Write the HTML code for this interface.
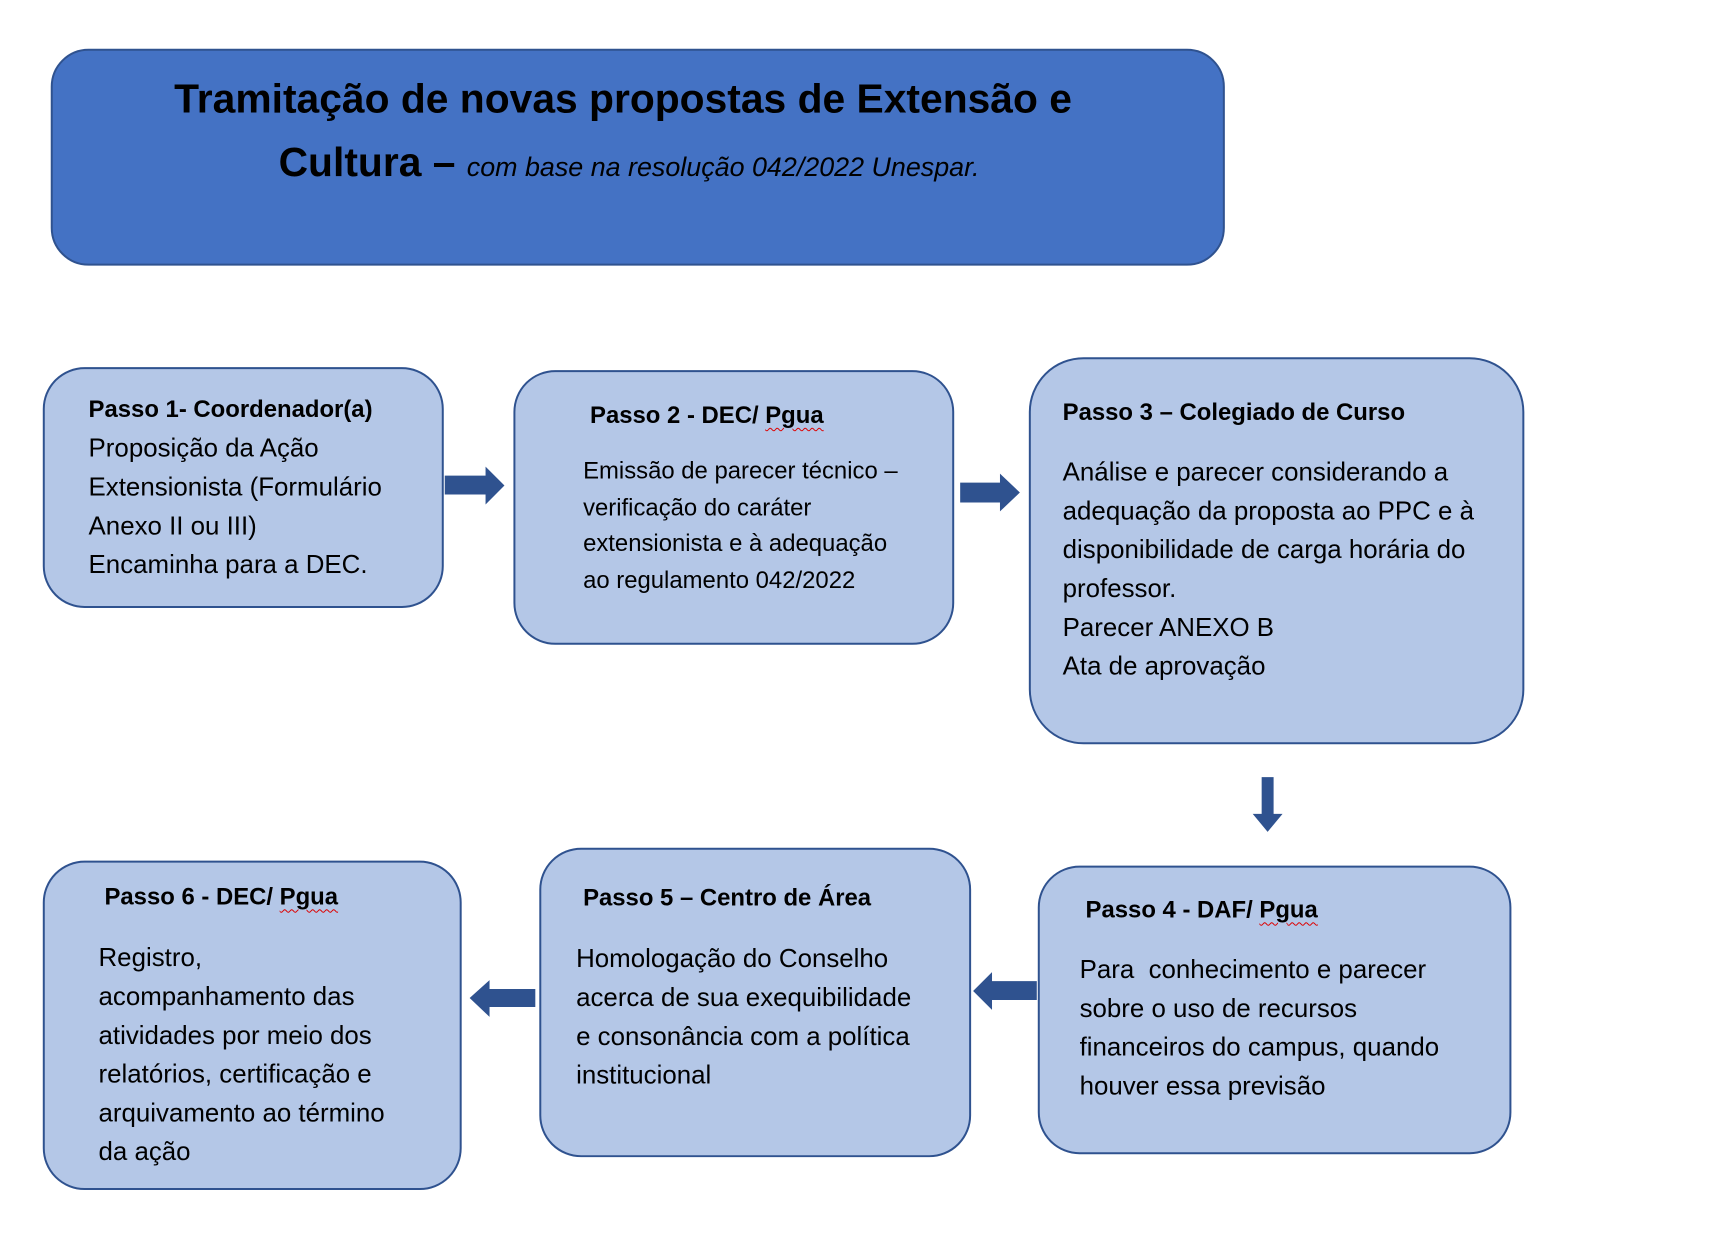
<!DOCTYPE html>
<html><head><meta charset="utf-8"><style>
body{margin:0;width:1728px;height:1233px;background:#fff;position:relative;overflow:hidden;font-family:"Liberation Sans",sans-serif;color:#000}
#w{position:absolute;left:0;top:0;width:1728px;height:1233px;transform:scale(0.995);transform-origin:0 0}
.b{position:absolute;background:#b4c7e7;border:2.5px solid #2f528f;border-radius:42px;box-sizing:border-box}
.t{position:absolute;white-space:nowrap;font-size:26px;line-height:39px}
.h{font-weight:bold;font-size:24px}
.u{text-decoration:underline wavy #d00;text-decoration-thickness:1px;text-underline-offset:4px}
</style></head><body><div id="w">
<div class="b" style="left:51px;top:49px;width:1180px;height:218px;background:#4472c4;border-radius:38px"></div>
<div class="t" style="left:175px;top:75px;font-size:41px;line-height:48px;font-weight:bold">Tramitação de novas propostas de Extensão e</div>
<div class="t" style="left:280px;top:139px;font-size:41px;line-height:48px"><b>Cultura –</b> <i style="font-size:27px">com base na resolução 042/2022 Unespar.</i></div>

<div class="b" style="left:43px;top:369px;width:403px;height:242px"></div>
<div class="b" style="left:516px;top:372px;width:443px;height:276px"></div>
<div class="b" style="left:1034px;top:359px;width:498px;height:389px;border-radius:55px"></div>
<div class="b" style="left:1043px;top:870px;width:476px;height:290px"></div>
<div class="b" style="left:542px;top:852px;width:434px;height:311px"></div>
<div class="b" style="left:43px;top:865px;width:421px;height:331px"></div>

<svg style="position:absolute;left:0;top:0" width="1728" height="1233">
<g fill="#2f528f">
<polygon points="447,478 488,478 488,469 507,488 488,507 488,497 447,497"/>
<polygon points="965,485 1005,485 1005,476 1025,495 1005,514 1005,505 965,505"/>
<polygon points="1268,781 1280,781 1280,818 1289,818 1274,836 1259,818 1268,818"/>
<polygon points="1042,986 997,986 997,977 978,996 997,1015 997,1005 1042,1005"/>
<polygon points="538,994 492,994 492,985 472,1003 492,1022 492,1012 538,1012"/>
</g></svg>

<div class="t" style="left:89px;top:391px"><b style="font-size:24px">Passo 1- Coordenador(a)</b><br>Proposição da Ação<br>Extensionista (Formulário<br>Anexo II ou III)<br>Encaminha para a DEC.</div>
<div class="t h" style="left:593px;top:398px">Passo 2 - DEC/ <span class="u">Pgua</span></div>
<div class="t" style="left:586px;top:456px;font-size:24px;line-height:36.5px">Emissão de parecer técnico –<br>verificação do caráter<br>extensionista e à adequação<br>ao regulamento 042/2022</div>
<div class="t h" style="left:1068px;top:395px">Passo 3 – Colegiado de Curso</div>
<div class="t" style="left:1068px;top:455px">Análise e parecer considerando a<br>adequação da proposta ao PPC e à<br>disponibilidade de carga horária do<br>professor.<br>Parecer ANEXO B<br>Ata de aprovação</div>
<div class="t h" style="left:1091px;top:895px">Passo 4 - DAF/ <span class="u">Pgua</span></div>
<div class="t" style="left:1085px;top:955px">Para &nbsp;conhecimento e parecer<br>sobre o uso de recursos<br>financeiros do campus, quando<br>houver essa previsão</div>
<div class="t h" style="left:586px;top:883px">Passo 5 – Centro de Área</div>
<div class="t" style="left:579px;top:944px">Homologação do Conselho<br>acerca de sua exequibilidade<br>e consonância com a política<br>institucional</div>
<div class="t h" style="left:105px;top:882px">Passo 6 - DEC/ <span class="u">Pgua</span></div>
<div class="t" style="left:99px;top:943px">Registro,<br>acompanhamento das<br>atividades por meio dos<br>relatórios, certificação e<br>arquivamento ao término<br>da ação</div>
</div></body></html>
